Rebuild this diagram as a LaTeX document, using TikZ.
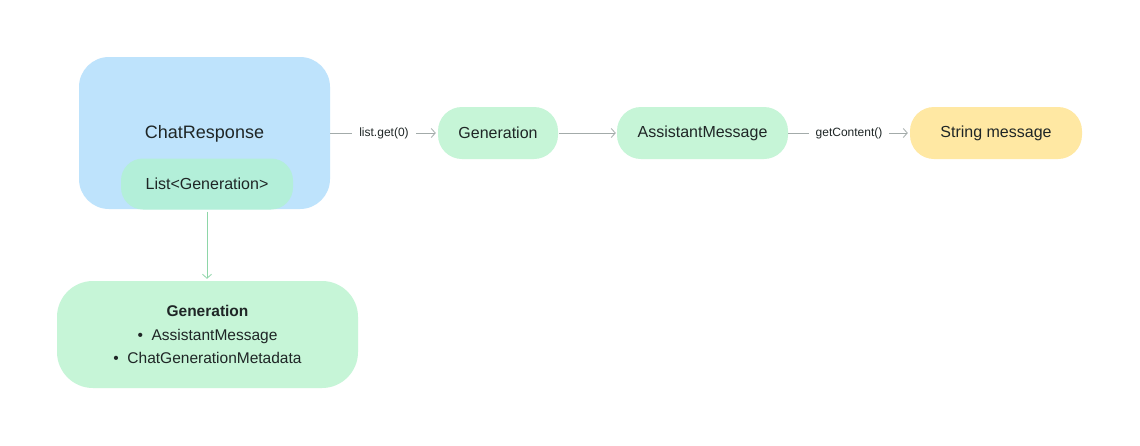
\documentclass[tikz,border=0pt]{standalone}
\usepackage{fontspec}
\setmainfont{Liberation Sans}
\usetikzlibrary{arrows.meta}
\definecolor{cblue}{HTML}{BEE3FC}
\definecolor{cgreen}{HTML}{C6F5D7}
\definecolor{clist}{HTML}{B3EFD9}
\definecolor{cyellow}{HTML}{FFE8A3}
\definecolor{ctext}{HTML}{1F2626}
\definecolor{cline}{HTML}{A3ABAA}
\definecolor{cvline}{HTML}{8ED6A8}
\tikzset{
  box/.style={rounded corners=24pt, inner sep=0pt, text=ctext, font=\fontsize{16}{19}\selectfont, minimum height=52pt},
  elabel/.style={fill=white, inner xsep=7pt, inner ysep=2pt, text=ctext, font=\fontsize{12}{14}\selectfont},
  conn/.style={line width=0.8pt, -{Straight Barb[length=4pt,width=9pt]}},
}
\begin{document}
\begin{tikzpicture}[x=1pt,y=-1pt]
\useasboundingbox (0,0) rectangle (1140,445);
\fill[white] (0,0) rectangle (1140,445);
\node[box, fill=cblue, rounded corners=30pt, minimum width=251pt, minimum height=152pt] (chat) at (204.5,133) {};
\node[text=ctext, font=\fontsize{18}{21}\selectfont] (chatlbl) at (204.5,134) {ChatResponse};
\node[box, fill=clist, rounded corners=22pt, minimum width=172pt, minimum height=51pt] (list) at (207,184) {List<Generation>};
\node[box, fill=cgreen, minimum width=120pt] (gen) at (498,133) {Generation};
\node[box, fill=cgreen, minimum width=171pt] (am) at (702.5,133) {AssistantMessage};
\node[box, fill=cyellow, minimum width=172pt] (str) at (996,133) {String message};
\node[box, fill=cgreen, rounded corners=36pt, minimum width=301pt, minimum height=107pt, align=center, font=\fontsize{15.5}{23.5}\selectfont] (gbox) at (207.5,334.5)
  {\textbf{Generation}\\ •\ \ AssistantMessage\\ •\ \ ChatGenerationMetadata};
\draw[conn, cline, shorten >=2pt] (chat.east) -- node[elabel] (l1) {list.get(0)} (gen.west);
\draw[conn, cline, shorten >=1pt, shorten <=1pt] (gen.east) -- (am.west);
\draw[conn, cline, shorten >=2pt] (am.east) -- node[elabel] (l2) {getContent()} (str.west);
\draw[conn, cvline, shorten <=2pt, shorten >=2pt] (list.south) -- (list.south |- gbox.north);
\end{tikzpicture}
\end{document}
